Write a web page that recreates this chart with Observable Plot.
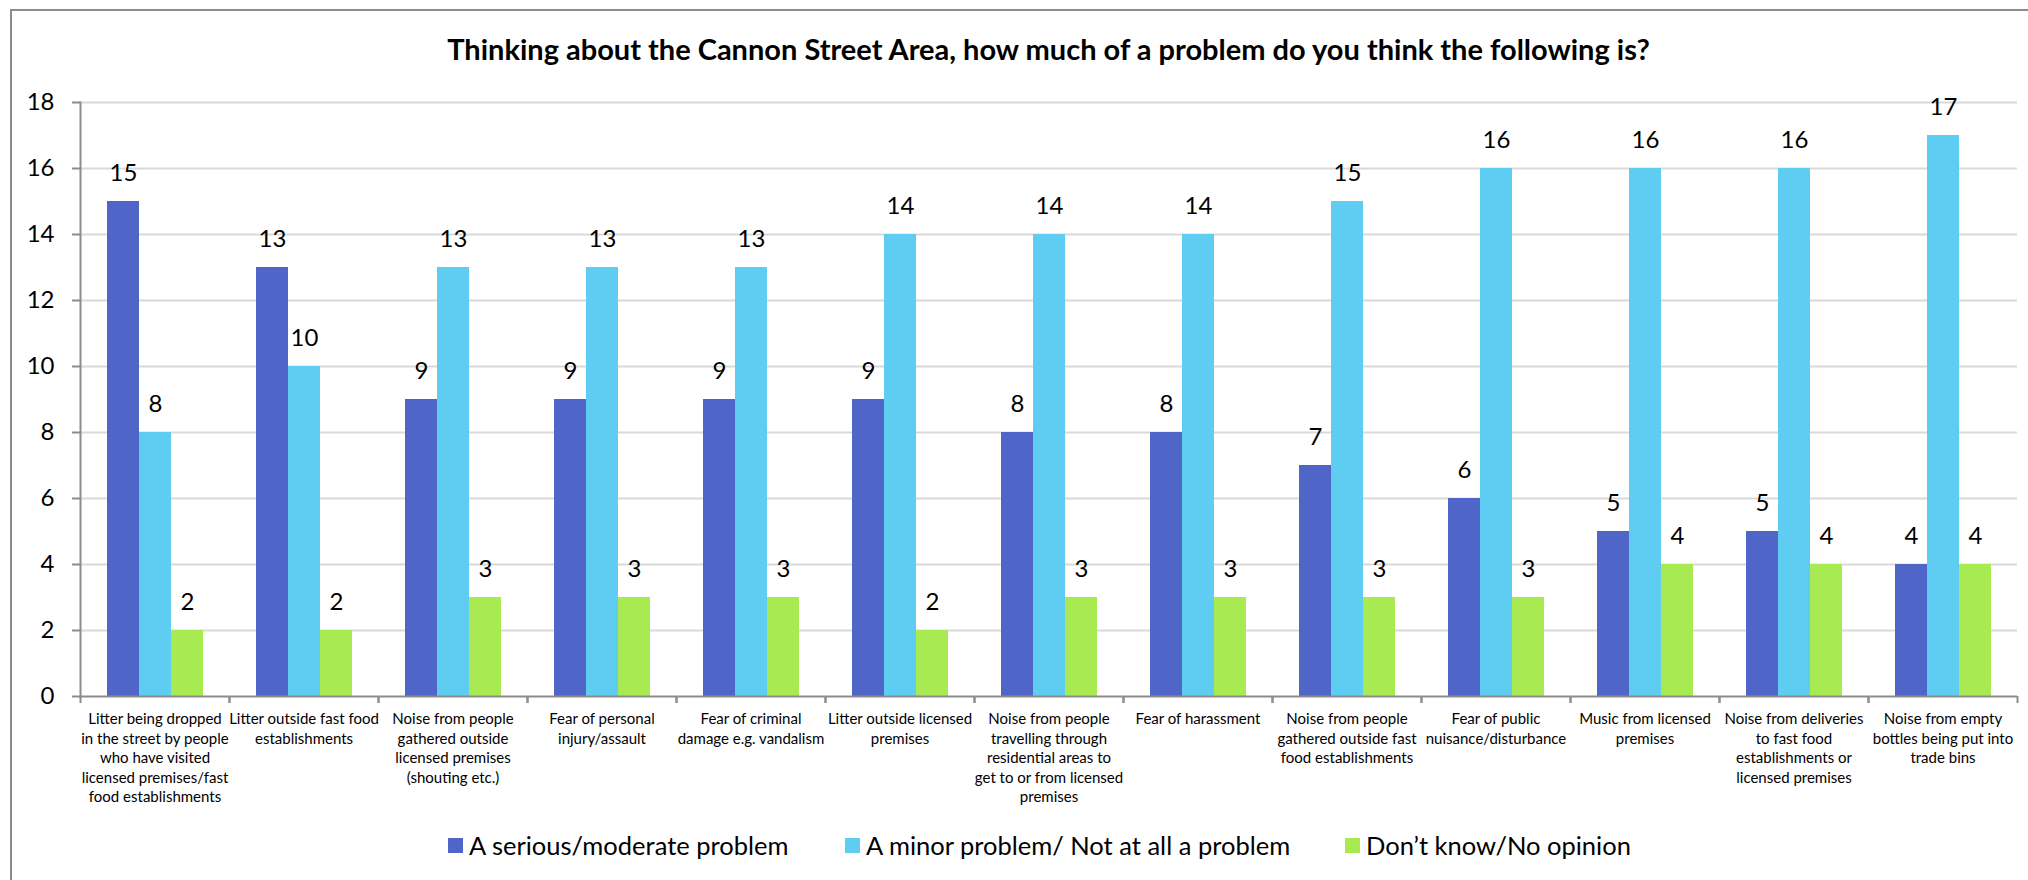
<!DOCTYPE html>
<html>
<head>
<meta charset="utf-8">
<script src="https://cdn.jsdelivr.net/npm/d3@7"></script>
<script src="https://cdn.jsdelivr.net/npm/@observablehq/plot@0.6"></script>
<style>
  html, body { margin: 0; padding: 0; background: #ffffff; }
  #chart { position: relative; width: 2028px; height: 880px; overflow: hidden; background: #ffffff; font-family: Lato, "Open Sans", sans-serif; color: #000; }
  #border { position: absolute; left: 10px; top: 9px; width: 2100px; height: 900px; border-left: 2px solid #8c8c8c; border-top: 2px solid #8c8c8c; pointer-events: none; }
  #title { position: absolute; left: 0; top: 34px; width: 2097px; line-height: 30px; font-size: 29px; font-weight: 700; text-align: center; white-space: nowrap; }
  #plot { position: absolute; left: 0; top: 80px; }
  #plot svg { display: block; }
  .item { position: absolute; top: 830px; height: 30px; display: flex; align-items: center; font-size: 25.5px; line-height: 30px; white-space: nowrap; }
  .swatch { width: 15px; height: 15px; margin-right: 6px; }
</style>
</head>
<body>
<div id="chart">
  <div id="title"></div>
  <div id="plot"></div>
  <div id="legend"></div>
  <div id="border"></div>
</div>
<script>
const titleText = "Thinking about the Cannon Street Area, how much of a problem do you think the following is?";

const categories = [
  "Litter being dropped in the street by people who have visited licensed premises/fast food establishments",
  "Litter outside fast food establishments",
  "Noise from people gathered outside licensed premises (shouting etc.)",
  "Fear of personal injury/assault",
  "Fear of criminal damage e.g. vandalism",
  "Litter outside licensed premises",
  "Noise from people travelling through residential areas to get to or from licensed premises",
  "Fear of harassment",
  "Noise from people gathered outside fast food establishments",
  "Fear of public nuisance/disturbance",
  "Music from licensed premises",
  "Noise from deliveries to fast food establishments or licensed premises",
  "Noise from empty bottles being put into trade bins"
];

const categoryLabels = [
  "Litter being dropped\nin the street by people\nwho have visited\nlicensed premises/fast\nfood establishments",
  "Litter outside fast food\nestablishments",
  "Noise from people\ngathered outside\nlicensed premises\n(shouting etc.)",
  "Fear of personal\ninjury/assault",
  "Fear of criminal\ndamage e.g. vandalism",
  "Litter outside licensed\npremises",
  "Noise from people\ntravelling through\nresidential areas to\nget to or from licensed\npremises",
  "Fear of harassment",
  "Noise from people\ngathered outside fast\nfood establishments",
  "Fear of public\nnuisance/disturbance",
  "Music from licensed\npremises",
  "Noise from deliveries\nto fast food\nestablishments or\nlicensed premises",
  "Noise from empty\nbottles being put into\ntrade bins"
];

const seriesNames = ["A serious/moderate problem", "A minor problem/ Not at all a problem", "Don\u2019t know/No opinion"];
const serious  = [15, 13, 9, 9, 9, 9, 8, 8, 7, 6, 5, 5, 4];
const minor    = [8, 10, 13, 13, 13, 14, 14, 14, 15, 16, 16, 16, 17];
const dontKnow = [2, 2, 3, 3, 3, 2, 3, 3, 3, 3, 4, 4, 4];
const seriesColors = ["#4F66C8", "#5FCCF2", "#A8EA52"];
const yTicks = [0, 2, 4, 6, 8, 10, 12, 14, 16, 18];

const seriesValues = [serious, minor, dontKnow];
const rows = categories.flatMap((c, i) =>
  seriesNames.map((s, j) => ({category: c, series: s, value: seriesValues[j][i]}))
);
const labelOf = new Map(categories.map((c, i) => [c, categoryLabels[i]]));

document.getElementById("title").textContent = titleText;

const W = 2028, H = 740, mL = 80, mR = 11, mT = 22, mB = 124;
const bandW = (W - mL - mR) / categories.length;
const axisGray = "#8c8c8c";

const chart = Plot.plot({
  width: W,
  height: H,
  marginTop: mT,
  marginBottom: mB,
  marginLeft: mL,
  marginRight: mR,
  style: {fontFamily: "Lato, 'Open Sans', sans-serif", background: "white", color: "black", overflow: "visible"},
  fx: {domain: categories, padding: 0, label: null},
  x: {domain: seriesNames, paddingInner: 0, paddingOuter: 0.76, axis: null},
  y: {domain: [0, 18], label: null},
  color: {domain: seriesNames, range: seriesColors},
  marks: [
    Plot.gridY(yTicks.filter(d => d > 0), {stroke: "#d9d9d9", strokeOpacity: 1, strokeWidth: 2}),
    Plot.barY(rows, {fx: "category", x: "series", y: "value", fill: "series"}),
    Plot.text(rows, {fx: "category", x: "series", y: "value", text: d => String(d.value), dy: -28, fontSize: 24, fill: "black"}),
    Plot.ruleY([0], {stroke: axisGray, strokeWidth: 2}),
    Plot.frame({anchor: "left", facetAnchor: "left", stroke: axisGray, strokeWidth: 2}),
    Plot.axisY({ticks: yTicks, tickSize: 8, tickPadding: 18, fontSize: 24, stroke: axisGray, strokeWidth: 2, fill: "black", label: null}),
    Plot.axisFx({anchor: "bottom", tickSize: 0, tickPadding: 14, fontSize: 15, lineHeight: 1.3, fill: "black", label: null, tickFormat: c => labelOf.get(c)}),
    Plot.axisFx({anchor: "bottom", tickSize: 7, fill: "none", stroke: axisGray, strokeWidth: 2, label: null, dx: -bandW / 2}),
    Plot.axisFx({anchor: "bottom", tickSize: 7, fill: "none", stroke: axisGray, strokeWidth: 2, label: null, dx: bandW / 2})
  ]
});
document.getElementById("plot").appendChild(chart);

const legendLeft = [448, 845, 1345];
const legend = document.getElementById("legend");
seriesNames.forEach((s, i) => {
  const item = document.createElement("div");
  item.className = "item";
  item.style.left = legendLeft[i] + "px";
  const sw = document.createElement("div");
  sw.className = "swatch";
  sw.style.background = seriesColors[i];
  const lab = document.createElement("span");
  lab.textContent = s;
  item.appendChild(sw);
  item.appendChild(lab);
  legend.appendChild(item);
});
</script>
</body>
</html>
